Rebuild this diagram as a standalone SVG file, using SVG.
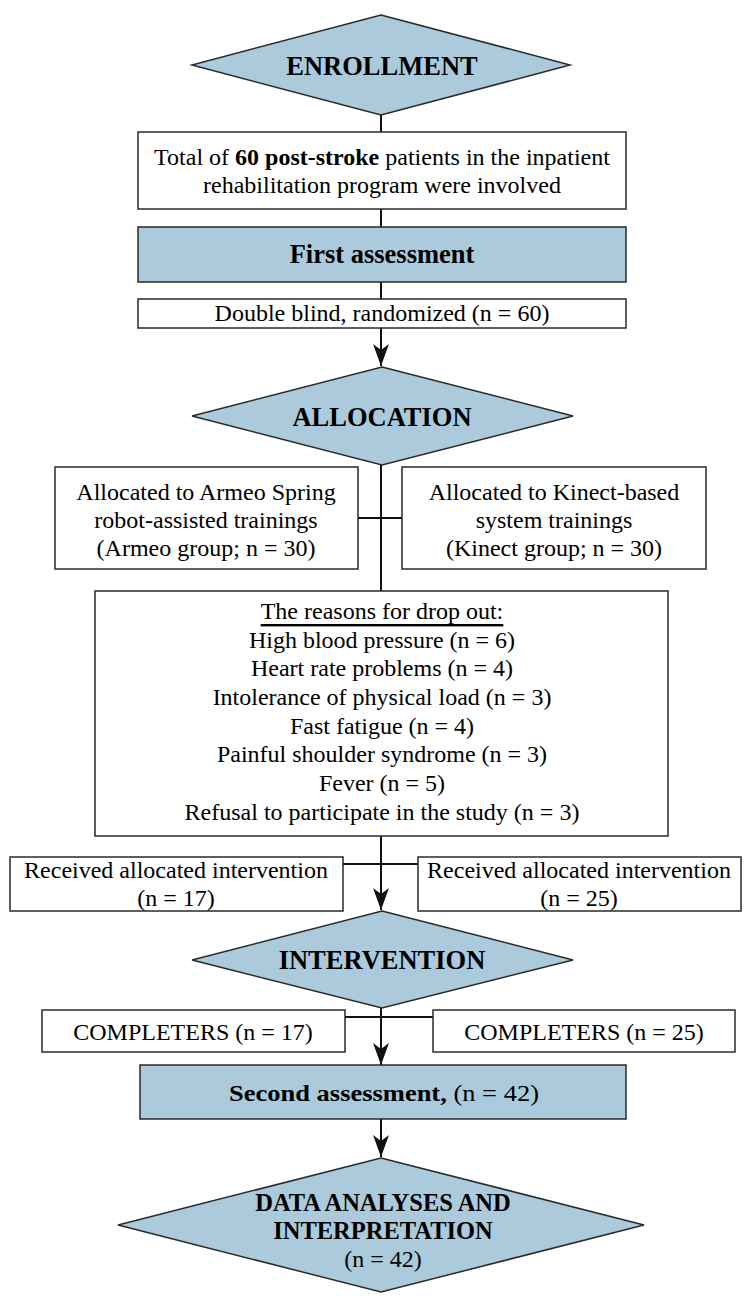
<svg xmlns="http://www.w3.org/2000/svg" width="747" height="1298" viewBox="0 0 747 1298">
<style>
.dia{fill:#abcadb;stroke:#2a2a2a;stroke-width:1.5}
.box{fill:#fff;stroke:#2a2a2a;stroke-width:1.5}
.bbox{fill:#abcadb;stroke:#2a2a2a;stroke-width:1.5}
.t{font-family:"Liberation Serif","Times New Roman",serif;font-size:24px;fill:#000;text-anchor:middle;dominant-baseline:central}
.b{font-weight:bold}
.h{font-family:"Liberation Serif","Times New Roman",serif;font-weight:bold;font-size:26.5px;fill:#000;text-anchor:middle;dominant-baseline:central}
.ln{stroke:#111;stroke-width:2;fill:none}
</style>
<defs>
<marker id="ah" markerUnits="userSpaceOnUse" markerWidth="24" markerHeight="18" refX="22" refY="9" orient="auto" viewBox="0 0 24 18">
<path d="M22,9 L0,1 L6,9 L0,17 Z" fill="#111"/>
</marker>
</defs>
<g id="connectors">
<line class="ln" x1="381" y1="115" x2="381" y2="132"/>
<line class="ln" x1="381" y1="209" x2="381" y2="227"/>
<line class="ln" x1="381" y1="282" x2="381" y2="299"/>
<path class="ln" d="M381,328 V366" marker-end="url(#ah)"/>
<line class="ln" x1="381" y1="465" x2="381" y2="591"/>
<line class="ln" x1="358" y1="518" x2="402" y2="518"/>
<path class="ln" d="M381,836 V910" marker-end="url(#ah)"/>
<line class="ln" x1="343" y1="864" x2="418" y2="864"/>
<path class="ln" d="M381,1008 V1065" marker-end="url(#ah)"/>
<line class="ln" x1="345" y1="1017" x2="433" y2="1017"/>
<path class="ln" d="M381,1119 V1157" marker-end="url(#ah)"/>
</g>
<g id="enrollment">
<polygon class="dia" points="381,15 570,65 381,115 192,65"/>
<text class="h" x="382" y="66">ENROLLMENT</text>
</g>
<g id="total">
<rect class="box" x="138" y="132" width="488" height="77"/>
<text class="t" x="382" y="157">Total of <tspan class="b">60 post-stroke</tspan> patients in the inpatient</text>
<text class="t" x="382" y="185">rehabilitation program were involved</text>
</g>
<g id="first-assessment">
<rect class="bbox" x="138" y="227" width="488" height="55"/>
<text class="h" x="382" y="254">First assessment</text>
</g>
<g id="double-blind">
<rect class="box" x="138" y="299" width="488" height="29"/>
<text class="t" x="382" y="313">Double blind, randomized (n = 60)</text>
</g>
<g id="allocation">
<polygon class="dia" points="382,367 573,416 382,465 192,416"/>
<text class="h" x="382" y="417">ALLOCATION</text>
</g>
<g id="armeo">
<rect class="box" x="55" y="467" width="303" height="102"/>
<text class="t" x="206" y="492">Allocated to Armeo Spring</text>
<text class="t" x="206" y="520">robot-assisted trainings</text>
<text class="t" x="206" y="548">(Armeo group; n = 30)</text>
</g>
<g id="kinect">
<rect class="box" x="402" y="467" width="304" height="102"/>
<text class="t" x="554" y="492">Allocated to Kinect-based</text>
<text class="t" x="554" y="520">system trainings</text>
<text class="t" x="554" y="548">(Kinect group; n = 30)</text>
</g>
<g id="dropout">
<rect class="box" x="95" y="591" width="573" height="245"/>
<text class="t" x="382" y="611" text-decoration="underline">The reasons for drop out:</text>
<text class="t" x="382" y="640">High blood pressure (n = 6)</text>
<text class="t" x="382" y="668">Heart rate problems (n = 4)</text>
<text class="t" x="382" y="697">Intolerance of physical load (n = 3)</text>
<text class="t" x="382" y="726">Fast fatigue (n = 4)</text>
<text class="t" x="382" y="754">Painful shoulder syndrome (n = 3)</text>
<text class="t" x="382" y="783">Fever (n = 5)</text>
<text class="t" x="382" y="812">Refusal to participate in the study (n = 3)</text>
</g>
<g id="received-armeo">
<rect class="box" x="10" y="857" width="333" height="54"/>
<text class="t" x="176" y="870">Received allocated intervention</text>
<text class="t" x="176" y="898">(n = 17)</text>
</g>
<g id="received-kinect">
<rect class="box" x="418" y="857" width="323" height="54"/>
<text class="t" x="579" y="870">Received allocated intervention</text>
<text class="t" x="579" y="898">(n = 25)</text>
</g>
<g id="intervention">
<polygon class="dia" points="382,911 573,960 382,1008 192,960"/>
<text class="h" x="382" y="960">INTERVENTION</text>
</g>
<g id="completers-armeo">
<rect class="box" x="42" y="1010" width="303" height="42"/>
<text class="t" x="193" y="1032">COMPLETERS (n = 17)</text>
</g>
<g id="completers-kinect">
<rect class="box" x="433" y="1010" width="302" height="42"/>
<text class="t" x="584" y="1032">COMPLETERS (n = 25)</text>
</g>
<g id="second-assessment">
<rect class="bbox" x="140" y="1065" width="486" height="54"/>
<text class="t" x="384" y="1093" textLength="310" lengthAdjust="spacingAndGlyphs"><tspan class="b">Second assessment,</tspan> (n = 42)</text>
</g>
<g id="data-analyses">
<polygon class="dia" points="381,1158 644,1225 381,1292 118,1225"/>
<text class="h" x="383" y="1202" style="font-size:24.5px">DATA ANALYSES AND</text>
<text class="h" x="383" y="1230" style="font-size:24.5px">INTERPRETATION</text>
<text class="t" x="383" y="1259">(n = 42)</text>
</g>
</svg>
